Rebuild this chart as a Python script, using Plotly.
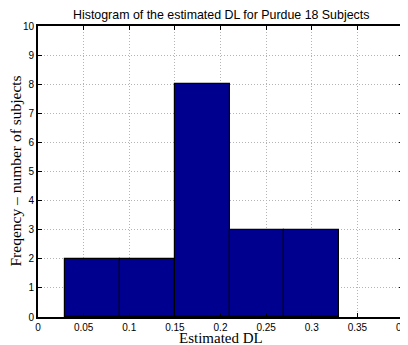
import plotly.graph_objects as go

bin_centers = [0.06, 0.12, 0.18, 0.24, 0.30]
counts = [2, 2, 8, 3, 3]
bin_width = 0.06
x_ticks = [0, 0.05, 0.1, 0.15, 0.2, 0.25, 0.3, 0.35, 0.4]
x_tick_labels = ["0", "0.05", "0.1", "0.15", "0.2", "0.25", "0.3", "0.35", "0.4"]
y_ticks = list(range(0, 11))

fig = go.Figure()
fig.add_trace(go.Bar(
    x=bin_centers, y=counts, width=[bin_width] * len(counts),
    marker=dict(color="#00008F", line=dict(color="black", width=1.2)),
))

sans = "Liberation Sans, Arial"
serif = "Liberation Serif, Times New Roman"

# page body has an 8px margin, so the figure is sized to the remaining 400x337 area
fig.update_layout(
    width=400, height=337,
    margin=dict(l=30, r=5, t=18, b=28, autoexpand=False),
    paper_bgcolor="white", plot_bgcolor="white",
    showlegend=False,
    bargap=0,
    annotations=[
        dict(text="Histogram of the estimated DL for Purdue 18 Subjects",
             xref="paper", yref="paper", x=0.5, y=1, yshift=11,
             xanchor="center", yanchor="middle", showarrow=False,
             font=dict(family=sans, size=12.4, color="black")),
        dict(text="Estimated DL", xref="paper", yref="paper", x=0.5, y=0, yshift=-21,
             xanchor="center", yanchor="middle", showarrow=False,
             font=dict(family=serif, size=15, color="black")),
        dict(text="Freqency \u2013 number of subjects", xref="paper", yref="paper",
             x=0, y=0.5, xshift=-23, textangle=-90,
             xanchor="center", yanchor="middle", showarrow=False,
             font=dict(family=serif, size=15.5, color="black")),
    ],
)
fig.update_xaxes(
    range=[0, 0.4], tickvals=x_ticks, ticktext=x_tick_labels,
    automargin=False, ticklabeloverflow="allow",
    showline=True, linecolor="black", linewidth=1.8, mirror="ticks",
    ticks="inside", ticklen=4, tickcolor="black",
    showgrid=True, gridcolor="#b4b4b4", griddash="1px,2px", gridwidth=1,
    zeroline=False,
    tickfont=dict(family=sans, size=10, color="black"),
)
fig.update_yaxes(
    range=[0, 10], tickvals=y_ticks,
    automargin=False, ticklabeloverflow="allow",
    showline=True, linecolor="black", linewidth=1.8, mirror="ticks",
    ticks="inside", ticklen=4, tickcolor="black",
    showgrid=True, gridcolor="#b4b4b4", griddash="1px,2px", gridwidth=1,
    zeroline=False,
    tickfont=dict(family=sans, size=10, color="black"),
)

fig.write_html("out.html")
